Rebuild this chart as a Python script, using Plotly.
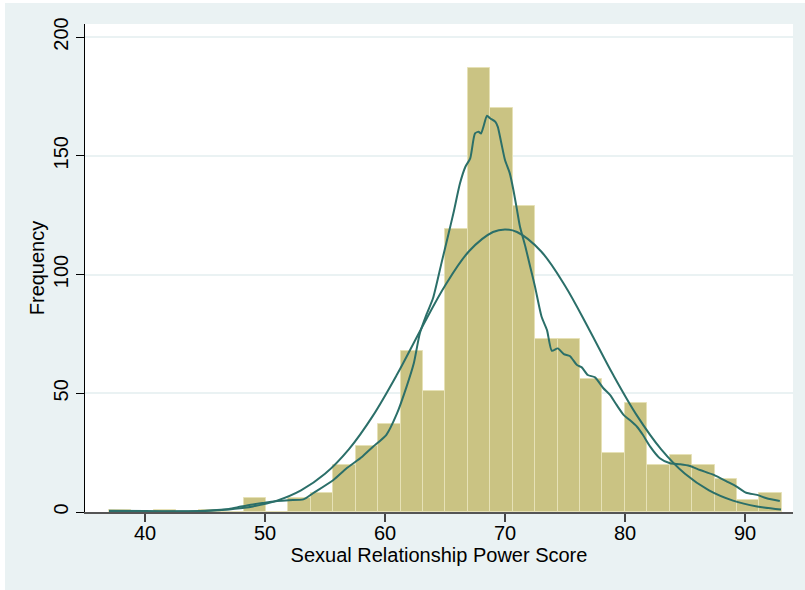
import plotly.graph_objects as go

# ---- data ----
bin_start = 37.0
bin_width = 1.869
counts = [1, 0, 1, 0, 1, 0, 6, 0, 6, 8, 20, 28, 37, 68, 51, 119, 187, 170,
          129, 73, 73, 56, 25, 46, 20, 24, 20, 14, 5, 8]

# normal density overlay
normal_x = [37, 39, 41, 43, 45, 47, 49, 51, 53, 55, 57, 59, 61, 63, 65, 67, 69, 70,
            71, 73, 75, 77, 79, 81, 83, 85, 87, 89, 91, 93]
normal_y = [0.0, 0.02, 0.07, 0.18, 0.46, 1.08, 2.36, 4.81, 9.12, 16.1, 26.5, 40.6,
            57.9, 77.0, 95.3, 109.8, 117.9, 119.0, 117.9, 109.8, 95.3, 77.0, 57.9,
            40.6, 26.5, 16.1, 9.12, 4.81, 2.36, 1.08]

# kernel density overlay
kde_x = [37, 40, 43, 45, 46, 47, 48, 49, 50, 51, 52, 53.2, 54.0, 55.7, 56.8, 58.1,
         59.0, 60.1, 61.0, 61.8, 62.4, 62.9, 63.5, 64.0, 64.7, 65.3, 65.7, 66.25,
         66.7, 67.1, 67.5, 67.8, 68.0, 68.2, 68.5, 68.75, 69.2, 69.4, 69.7, 70.0,
         70.4, 70.7, 71.0, 71.25, 71.7, 72.1, 72.5, 73.05, 73.5, 73.9, 74.4, 74.9,
         75.4, 76.0, 76.4, 76.9, 77.5, 78.2, 78.75, 79.3, 79.9, 80.4, 81.0, 81.5,
         82.1, 82.9, 83.75, 84.6, 85.4, 86.25, 87.4, 88.5, 89.3, 90.1, 91.0, 91.8,
         92.9]
kde_y = [0.5, 0.4, 0.3, 0.5, 0.8, 1.3, 2.3, 3.2, 3.9, 4.6, 5.0, 5.3, 7.9, 13.5, 18.4,
         23.3, 27.5, 32.4, 41.5, 52.8, 62.6, 75.2, 83.7, 90.0, 104.7, 117.3, 125.8,
         138.4, 145.4, 148.9, 159.4, 160.1, 159.4, 162.2, 166.9, 165.8, 164.3, 162.2,
         155.2, 148.2, 142.6, 135.6, 127.2, 120.1, 111.7, 103.3, 94.9, 82.2, 76.6,
         67.9, 68.9, 66.5, 65.7, 61.9, 60.9, 57.7, 56.7, 52.1, 49.3, 45.1, 40.8, 38.7,
         35.9, 32.4, 27.5, 22.6, 20.5, 20.1, 19.4, 17.7, 15.6, 12.8, 10.7, 8.1, 7.2,
         5.8, 4.6]

x_ticks = [40, 50, 60, 70, 80, 90]
y_ticks = [0, 50, 100, 150, 200]
x_title = "Sexual Relationship Power Score"
y_title = "Frequency"

bin_centers = [bin_start + bin_width * (i + 0.5) for i in range(len(counts))]

BAR = "#cac383"
BAR_EDGE = "#e6e1b6"
LINE = "#2b6f69"
BG = "#eaf2f3"
FONT = "Liberation Sans, Arial, Helvetica, sans-serif"

fig = go.Figure()
fig.add_trace(go.Bar(x=bin_centers, y=counts, width=bin_width,
                     marker=dict(color=BAR, line=dict(color=BAR_EDGE, width=1)),
                     hoverinfo="skip"))
fig.add_trace(go.Scatter(x=kde_x, y=kde_y, mode="lines",
                         line=dict(color=LINE, width=2, shape="spline", smoothing=0.6)))
fig.add_trace(go.Scatter(x=normal_x, y=normal_y, mode="lines",
                         line=dict(color=LINE, width=2, shape="spline", smoothing=1.0)))

W, H = 805, 590
L, R, T, B = 85, 12, 24, 78
pw, ph = W - L - R, H - T - B

fig.update_layout(
    width=W, height=H,
    margin=dict(l=L, r=R, t=T, b=B, pad=0),
    paper_bgcolor=BG, plot_bgcolor="white",
    showlegend=False, bargap=0,
    font=dict(family=FONT, size=20, color="black"),
    xaxis=dict(range=[35, 94], tickvals=x_ticks, ticks="outside", ticklen=8,
               tickwidth=1.5, tickcolor="#444", showline=True, linecolor="#555",
               linewidth=2, showgrid=False, zeroline=False,
               ticklabelstandoff=-6,
               tickfont=dict(size=20, color="black"),
               title=dict(text=x_title, font=dict(size=20, color="black"), standoff=2)),
    yaxis=dict(range=[0, 205.5], tickvals=y_ticks, ticks="outside", ticklen=8,
               tickwidth=1, tickcolor="black", showline=True, linecolor="black",
               linewidth=1, showgrid=True, gridcolor=BG, gridwidth=1.5,
               zeroline=False, tickangle=-90,
               tickfont=dict(size=20, color="black"),
               title=dict(text=y_title, font=dict(size=20, color="black"), standoff=0)),
    shapes=[
        dict(type="rect", xref="paper", yref="paper", layer="above",
             x0=-L / pw, x1=-(L - 5) / pw, y0=-B / ph, y1=1 + T / ph,
             fillcolor="white", line=dict(width=0)),
        dict(type="rect", xref="paper", yref="paper", layer="above",
             x0=-L / pw, x1=1 + R / pw, y0=1 + (T - 3) / ph, y1=1 + T / ph,
             fillcolor="white", line=dict(width=0)),
    ],
)

fig.write_html("out.html",
               config={"displayModeBar": False},
               post_script="document.body.style.margin='0';document.body.style.padding='0';")
